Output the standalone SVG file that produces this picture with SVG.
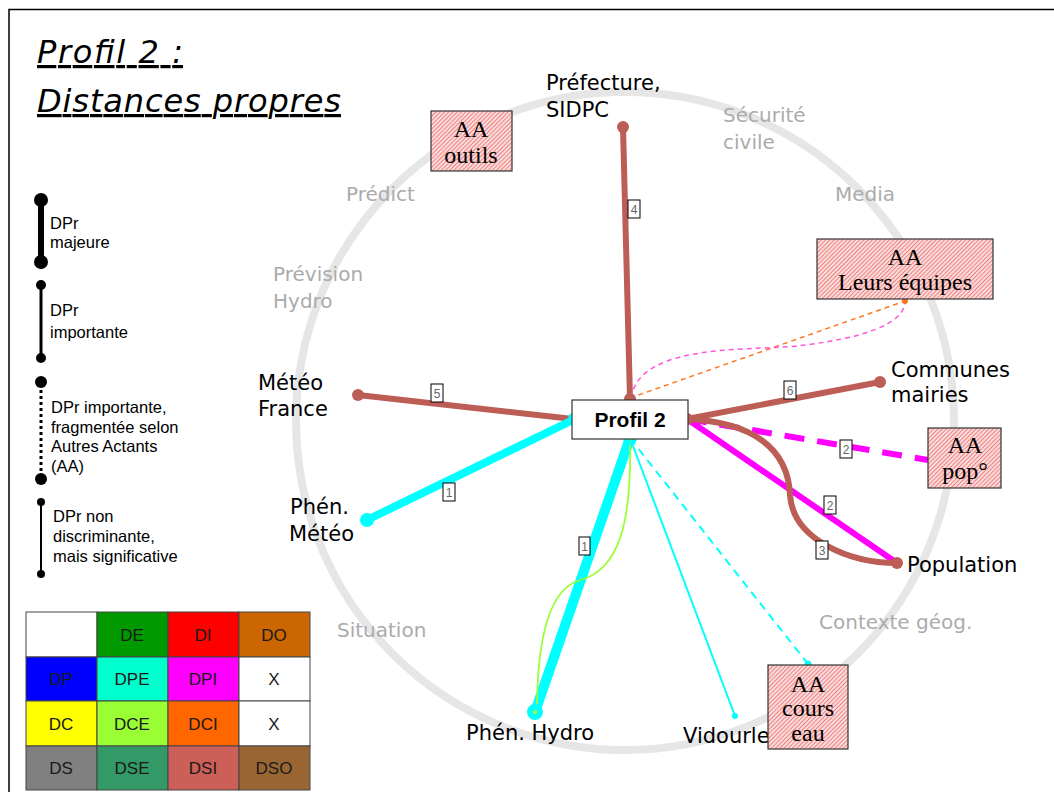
<svg xmlns="http://www.w3.org/2000/svg" width="1054" height="792" viewBox="0 0 1054 792">
<defs>
<pattern id="hatch" patternUnits="userSpaceOnUse" width="3" height="3" patternTransform="rotate(45)">
<rect width="3" height="3" fill="#FBDADA"/>
<line x1="0" y1="0" x2="0" y2="3" stroke="#E24B4B" stroke-width="1.2"/>
</pattern>
<style>
.node{font-family:"DejaVu Sans",Verdana,sans-serif;font-size:21px;fill:#000}
.cat{font-family:"DejaVu Sans",Verdana,sans-serif;font-size:20px;fill:#ABABAB}
.aa{fill:url(#hatch);stroke:#333;stroke-width:1.2}
.aat{font-family:"Liberation Serif","Times New Roman",serif;font-size:24px;fill:#000;text-anchor:middle}
.lbl rect{fill:#fff;stroke:#000;stroke-width:1}
.lbl text{font-family:"Liberation Sans",Arial,sans-serif;font-size:12px;fill:#666;text-anchor:middle}
.leg{font-family:"Liberation Sans",Arial,sans-serif;font-size:16.5px;fill:#000}
.tab text{font-family:"Liberation Sans",Arial,sans-serif;font-size:17px;fill:#1a1a1a;text-anchor:middle}
.tab rect{stroke:#444;stroke-width:1}
.title{font-family:"DejaVu Sans",Verdana,sans-serif;font-style:italic;font-size:32px;text-decoration:underline;fill:#000}
.br{stroke:#BC5E56;fill:none;stroke-width:6;stroke-linecap:round}
.cy{stroke:#00FFFF;fill:none;stroke-linecap:round}
.mg{stroke:#FF00FF;fill:none}
</style>
</defs>
<rect x="0" y="0" width="1054" height="792" fill="#fff"/>
<rect x="9" y="9.5" width="1100" height="900" fill="none" stroke="#000" stroke-width="1.5"/>
<circle cx="625" cy="421" r="329" fill="none" stroke="#E6E6E6" stroke-width="8"/>

<g id="title">
<text class="title" x="37" y="63" textLength="146" lengthAdjust="spacing">Profil 2 :</text>
<text class="title" x="37" y="112" textLength="304" lengthAdjust="spacing">Distances propres</text>
</g>

<g id="categories">
<text class="cat" x="723" y="122">Sécurité</text>
<text class="cat" x="723" y="149">civile</text>
<text class="cat" x="835" y="201">Media</text>
<text class="cat" x="346" y="201">Prédict</text>
<text class="cat" x="273" y="281">Prévision</text>
<text class="cat" x="273" y="308">Hydro</text>
<text class="cat" x="337" y="637">Situation</text>
<text class="cat" x="819" y="629">Contexte géog.</text>
</g>

<g id="connectors">
<line class="br" x1="623" y1="127" x2="630" y2="399"/>
<line class="br" x1="358" y1="395" x2="573" y2="419"/>
<line class="cy" x1="367" y1="520" x2="575" y2="419" stroke-width="8"/>
<line class="cy" x1="630" y1="438" x2="535" y2="712" stroke-width="10"/>
<path d="M630,438 C632,520 620,570 580,580 C545,590 537,650 537,712" fill="none" stroke="#99FF33" stroke-width="1.8"/>
<line class="cy" x1="630" y1="438" x2="735" y2="716" stroke-width="2"/>
<line x1="630" y1="438" x2="808" y2="664" stroke="#00FFFF" stroke-width="2" stroke-dasharray="8,6"/>
<line class="br" x1="687" y1="419" x2="880" y2="382"/>
<line class="mg" x1="687" y1="419" x2="928" y2="460" stroke-width="6" stroke-dasharray="20,13"/>
<line class="mg" x1="687" y1="419" x2="897" y2="563" stroke-width="6"/>
<path class="br" d="M687,419 C752,422 788,448 790,495 C793,540 850,563 897,563"/>
<line x1="630" y1="398" x2="905" y2="301" stroke="#FF7722" stroke-width="1.5" stroke-dasharray="5,4"/>
<path d="M631,398 C640,340 760,352 805,345 C860,338 905,325 905,301" fill="none" stroke="#FF55DD" stroke-width="1.5" stroke-dasharray="5,4"/>
<circle cx="623" cy="127" r="6" fill="#BC5E56"/>
<circle cx="630" cy="399" r="6" fill="#BC5E56"/>
<circle cx="358" cy="395" r="6" fill="#BC5E56"/>
<circle cx="575" cy="419" r="7" fill="#00FFFF"/>
<circle cx="367" cy="520" r="7" fill="#00FFFF"/>
<circle cx="630" cy="438" r="7" fill="#00FFFF"/>
<circle cx="630" cy="438" r="2.5" fill="#99FF33"/>
<circle cx="535" cy="712" r="8" fill="#00FFFF"/>
<circle cx="535" cy="712" r="2" fill="#99FF33"/>
<circle cx="735" cy="716" r="3" fill="#00FFFF"/>
<circle cx="808" cy="664" r="3.5" fill="#00FFFF"/>
<circle cx="687" cy="419" r="6" fill="#BC5E56"/>
<circle cx="880" cy="382" r="6" fill="#BC5E56"/>
<circle cx="897" cy="563" r="6" fill="#BC5E56"/>
<circle cx="905" cy="301" r="3" fill="#FF7722"/>
<g class="lbl">
<rect x="628" y="200" width="12" height="18"/><text x="634" y="214">4</text>
<rect x="431" y="384" width="12" height="18"/><text x="437" y="398">5</text>
<rect x="443" y="483" width="12" height="18"/><text x="449" y="497">1</text>
<rect x="579" y="537" width="11" height="18"/><text x="584.5" y="551">1</text>
<rect x="784" y="381" width="12" height="18"/><text x="790" y="395">6</text>
<rect x="840" y="440" width="12" height="18"/><text x="846" y="454">2</text>
<rect x="824" y="496" width="12" height="18"/><text x="830" y="510">2</text>
<rect x="816" y="541" width="12" height="18"/><text x="822" y="555">3</text>
</g>
</g>

<g id="profil2">
<rect x="572" y="400" width="116" height="39" fill="#fff" stroke="#333" stroke-width="1.2"/>
<text x="630" y="427" font-family="'Liberation Sans',Arial,sans-serif" font-weight="bold" font-size="21" text-anchor="middle">Profil 2</text>
</g>
<g id="prefecture"><text class="node" x="546" y="90" font-size="22">Préfecture,</text><text class="node" x="546" y="117" font-size="22">SIDPC</text></g>
<g id="meteofrance"><text class="node" x="258" y="390" font-size="21.5">Météo</text><text class="node" x="258" y="416" font-size="21.5">France</text></g>
<g id="phenmeteo"><text class="node" x="290" y="514" font-size="20">Phén.</text><text class="node" x="289" y="541" font-size="20">Météo</text></g>
<g id="phenhydro"><text class="node" x="466" y="740" font-size="20.3">Phén. Hydro</text></g>
<g id="vidourle"><text class="node" x="683" y="743" font-size="19.5">Vidourle</text></g>
<g id="communes"><text class="node" x="891" y="377">Communes</text><text class="node" x="891" y="402">mairies</text></g>
<g id="population"><text class="node" x="907" y="572" font-size="22">Population</text></g>

<g id="aa-outils"><rect class="aa" x="431" y="111" width="81" height="60"/><text class="aat" x="471" y="137">AA</text><text class="aat" x="471" y="163">outils</text></g>
<g id="aa-equipes"><rect class="aa" x="817" y="239" width="176" height="60"/><text class="aat" x="905" y="265">AA</text><text class="aat" x="905" y="290">Leurs équipes</text></g>
<g id="aa-pop"><rect class="aa" x="928" y="428" width="73" height="60"/><text class="aat" x="965" y="453">AA</text><text class="aat" x="965" y="479">pop°</text></g>
<g id="aa-cours"><rect class="aa" x="768" y="665" width="80" height="84"/><text class="aat" x="808" y="692">AA</text><text class="aat" x="808" y="716">cours</text><text class="aat" x="808" y="741">eau</text></g>

<g id="legend">
<line x1="41" y1="200" x2="41" y2="262" stroke="#000" stroke-width="6"/>
<circle cx="41" cy="200" r="7" fill="#000"/><circle cx="41" cy="262" r="7" fill="#000"/>
<text class="leg" x="50" y="229">DPr</text><text class="leg" x="50" y="248">majeure</text>
<line x1="41" y1="285" x2="41" y2="358" stroke="#000" stroke-width="3"/>
<circle cx="41" cy="285" r="5" fill="#000"/><circle cx="41" cy="358" r="5" fill="#000"/>
<text class="leg" x="50" y="316">DPr</text><text class="leg" x="50" y="338">importante</text>
<line x1="41" y1="384" x2="41" y2="478" stroke="#000" stroke-width="3" stroke-dasharray="3,3"/>
<circle cx="41" cy="382" r="6" fill="#000"/><circle cx="41" cy="479" r="6" fill="#000"/>
<text class="leg" x="51" y="413">DPr importante,</text><text class="leg" x="51" y="433">fragmentée selon</text><text class="leg" x="51" y="452">Autres Actants</text><text class="leg" x="51" y="472">(AA)</text>
<line x1="41" y1="502" x2="41" y2="574" stroke="#000" stroke-width="2"/>
<circle cx="41" cy="502" r="4" fill="#000"/><circle cx="41" cy="574" r="4" fill="#000"/>
<text class="leg" x="53" y="522">DPr non</text><text class="leg" x="53" y="542">discriminante,</text><text class="leg" x="53" y="562">mais significative</text>
</g>

<g id="table" class="tab">
<rect x="26" y="612" width="71" height="45" fill="#FFFFFF"/>
<rect x="97" y="612" width="71" height="45" fill="#009900"/>
<rect x="168" y="612" width="71" height="45" fill="#FF0000"/>
<rect x="239" y="612" width="71" height="45" fill="#CC6600"/>
<rect x="26" y="657" width="71" height="44" fill="#0000FF"/>
<rect x="97" y="657" width="71" height="44" fill="#00FFCC"/>
<rect x="168" y="657" width="71" height="44" fill="#FF00FF"/>
<rect x="239" y="657" width="71" height="44" fill="#FFFFFF"/>
<rect x="26" y="701" width="71" height="45" fill="#FFFF00"/>
<rect x="97" y="701" width="71" height="45" fill="#99FF33"/>
<rect x="168" y="701" width="71" height="45" fill="#FF6600"/>
<rect x="239" y="701" width="71" height="45" fill="#FFFFFF"/>
<rect x="26" y="746" width="71" height="44" fill="#808080"/>
<rect x="97" y="746" width="71" height="44" fill="#339966"/>
<rect x="168" y="746" width="71" height="44" fill="#CC5F58"/>
<rect x="239" y="746" width="71" height="44" fill="#996633"/>
<text x="132" y="641">DE</text><text x="203" y="641">DI</text><text x="274" y="641">DO</text>
<text x="61" y="685">DP</text><text x="132" y="685">DPE</text><text x="203" y="685">DPI</text><text x="274" y="685">X</text>
<text x="61" y="730">DC</text><text x="132" y="730">DCE</text><text x="203" y="730">DCI</text><text x="274" y="730">X</text>
<text x="61" y="774">DS</text><text x="132" y="774">DSE</text><text x="203" y="774">DSI</text><text x="274" y="774">DSO</text>
</g>
</svg>
